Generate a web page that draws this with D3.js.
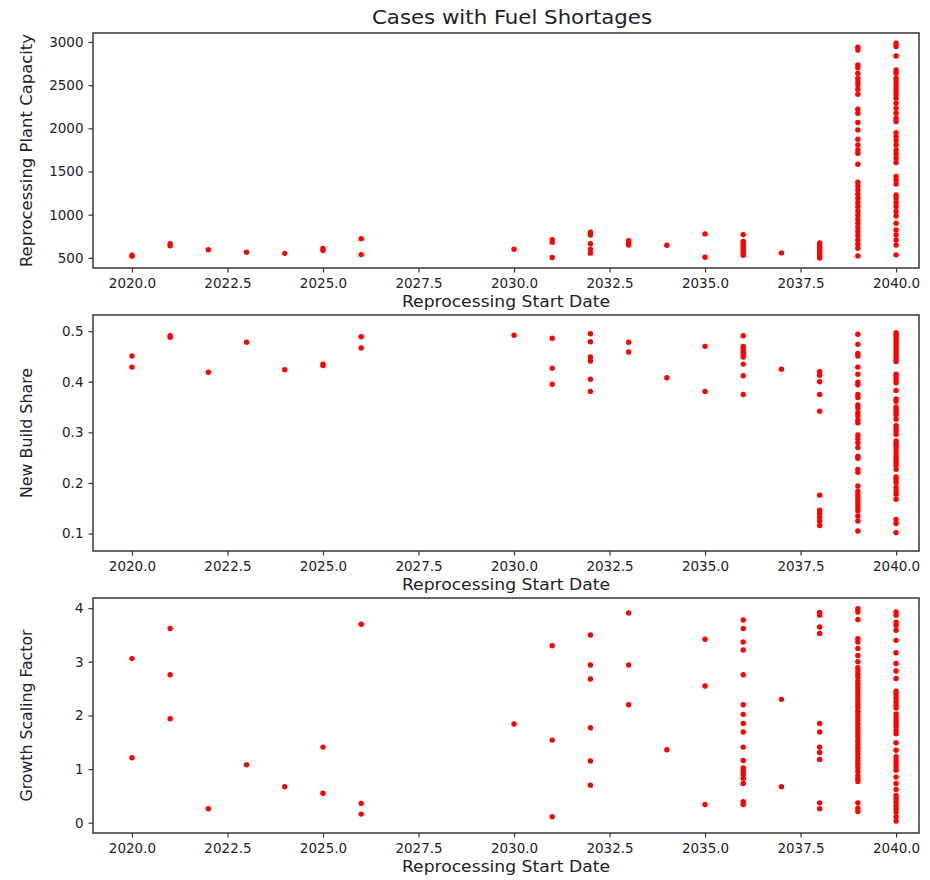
<!DOCTYPE html>
<html>
<head>
<meta charset="utf-8">
<script src="https://cdn.jsdelivr.net/npm/d3@7"></script>
<style>
  html, body { margin: 0; padding: 0; background: #fff; }
  svg { display: block; }
  .tick text { font-family: "DejaVu Sans", sans-serif; }
</style>
</head>
<body>
<svg id="chart" width="930" height="880"></svg>
<script>
// ---------------- data ----------------
const chartTitle = "Cases with Fuel Shortages";
const xLabel = "Reprocessing Start Date";
const yLabels = ["Reprocessing Plant Capacity", "New Build Share", "Growth Scaling Factor"];

const years = [2020, 2021, 2022, 2023, 2024, 2025, 2026, 2030, 2031, 2032, 2033, 2034, 2035, 2036, 2037, 2038, 2039, 2040];

const capacity = [
  [520, 530],
  [640, 665],
  [595],
  [565],
  [552],
  [610, 585],
  [723, 538],
  [600],
  [712, 680, 505],
  [797, 765, 665, 600, 555],
  [700, 675, 650],
  [647],
  [778, 508],
  [770, 690, 665, 640, 610, 580, 555, 530],
  [558],
  [672, 645, 620, 595, 570, 545, 520, 498],
  [2939, 2907, 2734, 2703, 2638, 2580, 2541, 2503, 2453, 2395, 2221, 2175, 2067, 1982, 1874, 1808, 1750, 1712, 1585,
   1376, 1333, 1287, 1237, 1191, 1141, 1095, 1044, 998, 948, 902, 852, 806, 759, 708, 659, 612, 523],
  [2985, 2947, 2838, 2676, 2638, 2580, 2541, 2503, 2464, 2426, 2387, 2348, 2291, 2233, 2175, 2117, 2079, 1951, 1905,
   1859, 1808, 1750, 1704, 1654, 1604, 1442, 1403, 1356, 1229, 1191, 1141, 1095, 1037, 986, 902, 824, 766, 708, 650, 535]
];

const newBuildShare = [
  [0.451, 0.429],
  [0.491, 0.488],
  [0.419],
  [0.478],
  [0.424],
  [0.435, 0.432],
  [0.489, 0.467],
  [0.492],
  [0.486, 0.427, 0.395],
  [0.495, 0.479, 0.449, 0.441, 0.405, 0.381],
  [0.478, 0.459],
  [0.408],
  [0.470, 0.381],
  [0.491, 0.470, 0.464, 0.459, 0.455, 0.449, 0.435, 0.412, 0.375],
  [0.425],
  [0.420, 0.413, 0.400, 0.375, 0.342, 0.176, 0.146, 0.140, 0.133, 0.125, 0.116],
  [0.494, 0.474, 0.456, 0.451, 0.429, 0.415, 0.399, 0.394, 0.375, 0.369, 0.354, 0.348, 0.339, 0.333, 0.324, 0.319,
   0.295, 0.288, 0.280, 0.270, 0.253, 0.249, 0.227, 0.221, 0.194, 0.184, 0.178, 0.171, 0.165, 0.158, 0.151, 0.145,
   0.135, 0.125, 0.105],
  [0.497, 0.493, 0.488, 0.482, 0.477, 0.472, 0.466, 0.461, 0.456, 0.451, 0.445, 0.440, 0.415, 0.410, 0.404, 0.398,
   0.383, 0.366, 0.361, 0.350, 0.345, 0.340, 0.335, 0.326, 0.313, 0.308, 0.302, 0.296, 0.283, 0.278, 0.273, 0.267,
   0.260, 0.253, 0.247, 0.240, 0.234, 0.227, 0.212, 0.207, 0.201, 0.191, 0.184, 0.178, 0.168, 0.128, 0.120, 0.102]
];

const growthFactor = [
  [3.06, 1.21],
  [3.62, 2.76, 1.94],
  [0.26],
  [1.08],
  [0.67],
  [1.41, 0.55],
  [3.70, 0.36, 0.16],
  [1.84],
  [3.30, 1.54, 0.11],
  [3.50, 2.94, 2.68, 1.77, 1.15, 0.70],
  [3.91, 2.94, 2.20],
  [1.36],
  [3.42, 2.55, 0.34],
  [3.78, 3.62, 3.37, 3.22, 2.76, 2.20, 2.02, 1.85, 1.69, 1.41, 1.16, 1.02, 0.96, 0.90, 0.83, 0.73, 0.39, 0.34],
  [2.30, 0.67],
  [3.92, 3.87, 3.65, 3.53, 1.85, 1.69, 1.41, 1.31, 1.18, 0.37, 0.26],
  [3.99, 3.93, 3.79, 3.43, 3.37, 3.25, 3.12, 3.00, 2.89, 2.83, 2.77, 2.71, 2.64, 2.58, 2.52, 2.46, 2.40, 2.33, 2.27,
   2.21, 2.15, 2.08, 2.02, 1.96, 1.90, 1.84, 1.77, 1.71, 1.65, 1.59, 1.52, 1.46, 1.40, 1.34, 1.28, 1.21, 1.15, 1.09,
   1.03, 0.96, 0.88, 0.82, 0.77, 0.37, 0.27, 0.21],
  [3.93, 3.87, 3.74, 3.68, 3.59, 3.40, 3.17, 2.97, 2.83, 2.69, 2.45, 2.39, 2.33, 2.26, 2.20, 2.14, 2.03, 1.97, 1.91,
   1.85, 1.79, 1.72, 1.66, 1.49, 1.35, 1.23, 1.16, 1.10, 1.04, 0.98, 0.85, 0.73, 0.62, 0.51, 0.45, 0.39, 0.32, 0.26,
   0.20, 0.11, 0.03]
];

const xTicks = [2020, 2022.5, 2025, 2027.5, 2030, 2032.5, 2035, 2037.5, 2040];
const capacityTicks = [500, 1000, 1500, 2000, 2500, 3000];
const shareTicks = [0.1, 0.2, 0.3, 0.4, 0.5];
const growthTicks = [0, 1, 2, 3, 4];

// ---------------- layout ----------------
const svg = d3.select("#chart");
const left = 93, right = 919;
const xDomain = [2018.98, 2040.6];

const panels = [
  { data: capacity, ticks: capacityTicks, domain: [383, 3104], top: 33, bottom: 268,
    fmt: d3.format("d"), label: yLabels[0], labelLen: 233 },
  { data: newBuildShare, ticks: shareTicks, domain: [0.0656, 0.532], top: 315, bottom: 551,
    fmt: d3.format(".1f"), label: yLabels[1], labelLen: 130 },
  { data: growthFactor, ticks: growthTicks, domain: [-0.192, 4.19], top: 598, bottom: 833,
    fmt: d3.format("d"), label: yLabels[2], labelLen: 172 }
];

const x = d3.scaleLinear().domain(xDomain).range([left, right]);

const labelFont = '"DejaVu Sans Condensed", "Liberation Sans Narrow", "Roboto Condensed", "DejaVu Sans", sans-serif';

panels.forEach((p, i) => {
  const y = d3.scaleLinear().domain(p.domain).range([p.bottom, p.top]);
  const g = svg.append("g");

  // points
  const pts = [];
  years.forEach((yr, k) => p.data[k].forEach(v => pts.push([yr, v])));
  g.append("g").selectAll("circle").data(pts).join("circle")
    .attr("cx", d => x(d[0]))
    .attr("cy", d => y(d[1]))
    .attr("r", 2.7)
    .attr("fill", "#ff0000");

  // axes
  const xAxis = d3.axisBottom(x).tickValues(xTicks).tickFormat(d3.format(".1f"))
    .tickSize(4.5).tickPadding(6);
  const gx = g.append("g").attr("transform", `translate(0,${p.bottom})`).call(xAxis);
  const yAxis = d3.axisLeft(y).tickValues(p.ticks).tickFormat(p.fmt).tickSize(4.5).tickPadding(5);
  const gy = g.append("g").attr("transform", `translate(${left},0)`).call(yAxis);
  [gx, gy].forEach(a => {
    a.select(".domain").remove();
    a.selectAll(".tick line").attr("stroke", "#333").attr("stroke-width", 1.2);
    a.selectAll(".tick text").attr("fill", "#222").style("font-size", "13.5px");
  });

  // frame
  g.append("rect")
    .attr("x", left).attr("y", p.top)
    .attr("width", right - left).attr("height", p.bottom - p.top)
    .attr("fill", "none").attr("stroke", "#444").attr("stroke-width", 1.6);

  // x label
  g.append("text")
    .attr("x", 506).attr("y", p.bottom + 39)
    .attr("text-anchor", "middle")
    .attr("font-family", labelFont).attr("font-size", 16.5).attr("fill", "#222")
    .attr("textLength", 208).attr("lengthAdjust", "spacingAndGlyphs")
    .text(xLabel);

  // y label
  const cy = (p.top + p.bottom) / 2;
  g.append("text")
    .attr("transform", `translate(32,${cy}) rotate(-90)`)
    .attr("text-anchor", "middle")
    .attr("font-family", labelFont).attr("font-size", 16.5).attr("fill", "#222")
    .attr("textLength", p.labelLen).attr("lengthAdjust", "spacingAndGlyphs")
    .text(p.label);
});

svg.append("text")
  .attr("x", 512).attr("y", 24)
  .attr("text-anchor", "middle")
  .attr("font-family", labelFont).attr("font-size", 19).attr("fill", "#222")
  .attr("textLength", 280).attr("lengthAdjust", "spacingAndGlyphs")
  .text(chartTitle);
</script>
</body>
</html>
